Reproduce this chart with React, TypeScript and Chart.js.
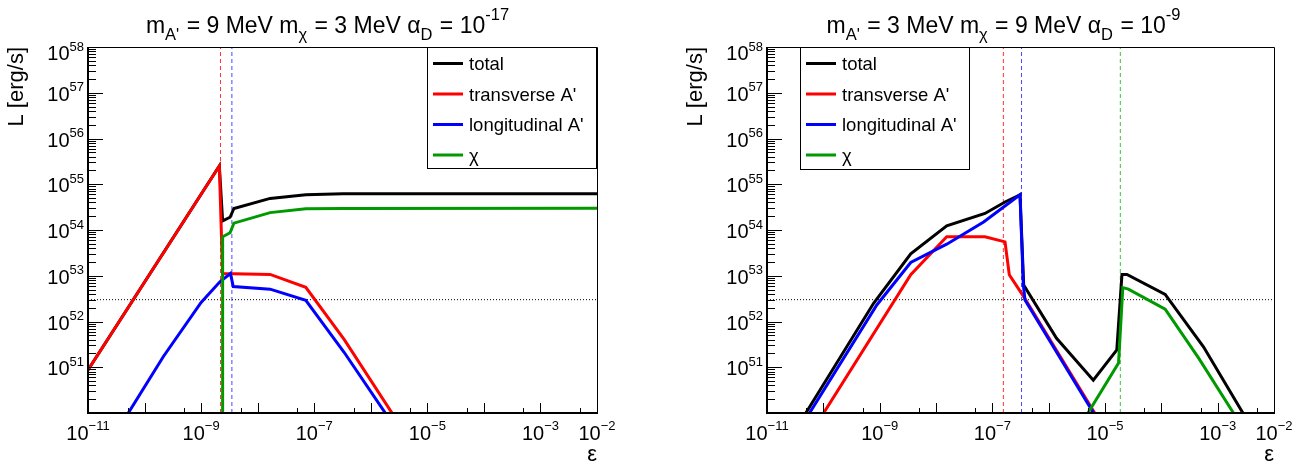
import React, { useEffect, useRef } from 'react';
import { Chart, registerables } from 'chart.js';

Chart.register(...registerables);

const FONT = '"Liberation Sans", Arial, Helvetica, sans-serif';

// ---------- axis ranges and tick labels ----------
const epsMin = 1e-11;
const epsMax = 1e-2;
const lumMin = 1e50;
const lumMax = 1e58;
const xLabelExponents = [-11, -9, -7, -5, -3, -2];
const yLabelExponents = [51, 52, 53, 54, 55, 56, 57, 58];
const seriesNames = ['total', "transverse A'", "longitudinal A'", 'χ'];
const thresholdL = 3e52;

// ---------- left panel: mA' = 9 MeV, mχ = 3 MeV, αD = 1e-17 ----------
const leftTotalEps = [1e-11, 2.1e-9, 2.4e-9, 3.25e-9, 3.8e-9, 1.66e-8, 7.1e-8, 3.2e-7, 1e-2];
const leftTotalL = [8.7e50, 2.5e55, 1.58e54, 1.9e54, 2.95e54, 4.9e54, 5.9e54, 6.2e54, 6.2e54];
const leftTransEps = [1e-11, 2.1e-9, 2.4e-9, 1.66e-8, 7.1e-8, 3.4e-7, 1e-5];
const leftTransL = [8.7e50, 2.5e55, 1.12e53, 1.07e53, 5.6e52, 4.0e51, 6.5e48];
const leftLongEps = [1e-11, 2.14e-10, 1e-9, 2.15e-9, 3.3e-9, 3.7e-9, 1.66e-8, 7.1e-8, 3.4e-7, 1e-5];
const leftLongL = [3.8e48, 1.7e51, 2.6e52, 7.4e52, 1.12e53, 5.8e52, 5.1e52, 2.9e52, 2.1e51, 4.4e48];
const leftChiEps = [2.38e-9, 2.4e-9, 3.25e-9, 3.8e-9, 1.66e-8, 7.1e-8, 3.2e-7, 1e-2];
const leftChiL = [1e40, 7.1e53, 8.7e53, 1.41e54, 2.4e54, 2.9e54, 2.95e54, 3.0e54];
const leftMarkTrans = 2.2e-9;
const leftMarkLong = 3.5e-9;

// ---------- right panel: mA' = 3 MeV, mχ = 9 MeV, αD = 1e-9 ----------
const rightTotalEps = [1e-11, 7.8e-10, 3.56e-9, 1.55e-8, 7.4e-8, 1.68e-7, 3.1e-7, 3.6e-7, 1.38e-6, 6.2e-6, 1.62e-5, 2.0e-5, 2.45e-5, 1.17e-4, 5.6e-4, 1e-2];
const rightTotalL = [4.2e48, 2.5e52, 3.0e53, 1.23e54, 2.3e54, 4.1e54, 5.9e54, 6.3e52, 4.3e51, 5.2e50, 2.4e51, 1.07e53, 1.07e53, 3.9e52, 2.8e51, 7.2e48];
const rightTransEps = [3.2e-11, 3.56e-9, 1.55e-8, 7.4e-8, 1.68e-7, 2.0e-7, 3.6e-7, 1e-4];
const rightTransL = [1.05e49, 1.05e53, 7.1e53, 7.1e53, 5.5e53, 1.05e53, 3.5e52, 4.1e47];
const rightLongEps = [1e-11, 8.9e-10, 3.56e-9, 1.55e-8, 7.0e-8, 3.1e-7, 3.55e-7, 3.8e-7, 1e-4];
const rightLongL = [3.2e48, 2.3e52, 1.95e53, 4.9e53, 1.5e54, 5.9e54, 6.3e52, 2.95e52, 3.6e47];
const rightChiEps = [2.5e-6, 1.74e-5, 2.07e-5, 2.6e-5, 1.17e-4, 4.6e-4, 1e-2];
const rightChiL = [2.5e49, 1.23e51, 5.5e52, 5.1e52, 1.86e52, 1.58e51, 4e48];
const rightMarkTrans = 1.57e-7;
const rightMarkLong = 3.3e-7;
const rightMarkChi = 1.87e-5;

const COLORS = ['#000000', '#ff0000', '#0000ff', '#009900'];
const MARK_COLORS = ['rgba(255,0,0,0.8)', 'rgba(40,40,255,0.85)', 'rgba(0,170,0,0.75)'];

type Part = [string, number]; // 0 main, 1 sub, 2 sup

interface PanelCfg {
  left: number;
  width: number;
  padding: { left: number; right: number; top: number; bottom: number };
  title: Part[];
  titleCx: number;
  yTitleX: number;
  legendBox: { l: number; r: number; t: number; b: number };
  series: { eps: number[]; L: number[] }[];
  marks: { eps: number; color: string }[];
}

const pts = (eps: number[], L: number[]) => eps.map((e, i) => ({ x: e, y: L[i] }));

function drawPow(ctx: CanvasRenderingContext2D, exp: string, x: number, base: number, align: 'center' | 'right', supDy: number) {
  ctx.font = `20px ${FONT}`;
  const w1 = ctx.measureText('10').width;
  ctx.font = `13px ${FONT}`;
  const w2 = ctx.measureText(exp).width;
  const total = w1 + w2;
  const x0 = align === 'center' ? x - total / 2 : x - total;
  ctx.textAlign = 'left';
  ctx.textBaseline = 'alphabetic';
  ctx.font = `20px ${FONT}`;
  ctx.fillText('10', x0, base);
  ctx.font = `13px ${FONT}`;
  ctx.fillText(exp, x0 + w1, base - supDy);
}

function makePlugin(cfg: PanelCfg) {
  return {
    id: 'rootDecor',
    afterDraw(chart: any) {
      const ctx: CanvasRenderingContext2D = chart.ctx;
      const a = chart.chartArea;
      const xs = chart.scales.x;
      const ys = chart.scales.y;
      ctx.save();
      ctx.setLineDash([]);
      ctx.strokeStyle = '#000';
      ctx.fillStyle = '#000';
      // ticks
      ctx.lineWidth = 1;
      ctx.beginPath();
      for (let n = 50; n < 58; n++) {
        for (let k = 1; k <= 9; k++) {
          const py = Math.round(ys.getPixelForValue(k * Math.pow(10, n))) + 0.5;
          if (py < a.top || py > a.bottom - 1) continue;
          const len = k === 1 ? 15 : 8;
          ctx.moveTo(a.left, py);
          ctx.lineTo(a.left + len, py);
        }
      }
      for (let n = -11; n <= -2; n++) {
        for (const k of [1, 5]) {
          const px = Math.round(xs.getPixelForValue(k * Math.pow(10, n))) + 0.5;
          if (px < a.left + 1 || px > a.right - 1) continue;
          const len = k === 1 ? 10 : 5;
          ctx.moveTo(px, a.bottom);
          ctx.lineTo(px, a.bottom - len);
        }
      }
      ctx.stroke();
      // frame
      ctx.lineWidth = 1;
      ctx.beginPath();
      ctx.moveTo(a.left, a.top + 0.5);
      ctx.lineTo(a.right + 0.5, a.top + 0.5);
      ctx.lineTo(a.right + 0.5, a.bottom);
      ctx.stroke();
      ctx.lineWidth = 2;
      ctx.beginPath();
      ctx.moveTo(a.left, a.top);
      ctx.lineTo(a.left, a.bottom);
      ctx.lineTo(a.right + 1, a.bottom);
      ctx.stroke();

      // tick labels
      for (const n of yLabelExponents) {
        const py = ys.getPixelForValue(Math.pow(10, n));
        const shift = n === 58 ? 5 : 0;
        drawPow(ctx, String(n), a.left - 4, py + 8 + shift, 'right', 9.5);
      }
      for (const n of xLabelExponents) {
        const px = xs.getPixelForValue(Math.pow(10, n));
        drawPow(ctx, '\u2212' + String(-n), px, a.bottom + 27, 'center', 10.5);
      }
      // axis titles
      ctx.font = `22px ${FONT}`;
      ctx.textAlign = 'right';
      ctx.textBaseline = 'alphabetic';
      ctx.fillText('ε', a.right, 461);
      ctx.save();
      ctx.translate(cfg.yTitleX, a.top);
      ctx.rotate(-Math.PI / 2);
      ctx.textAlign = 'right';
      ctx.fillText('L [erg/s]', 0, 0);
      ctx.restore();

      // title
      const sizes = [23, 16.5, 16.5];
      const dys = [0, 7, -13];
      let tw = 0;
      for (const [t, s] of cfg.title) {
        ctx.font = `${sizes[s]}px ${FONT}`;
        tw += ctx.measureText(t).width + (s ? 1 : 0);
      }
      let tx = cfg.titleCx - tw / 2;
      ctx.textAlign = 'left';
      for (const [t, s] of cfg.title) {
        ctx.font = `${sizes[s]}px ${FONT}`;
        ctx.fillText(t, tx, 33 + dys[s]);
        tx += ctx.measureText(t).width + (s ? 1 : 0);
      }

      // legend
      const lb = cfg.legendBox;
      ctx.fillStyle = '#fff';
      ctx.fillRect(lb.l, lb.t, lb.r - lb.l, lb.b - lb.t);
      ctx.strokeStyle = '#000';
      ctx.lineWidth = 1;
      ctx.strokeRect(lb.l + 0.5, lb.t + 0.5, lb.r - lb.l, lb.b - lb.t);
      ctx.font = `18.5px ${FONT}`;
      ctx.textAlign = 'left';
      seriesNames.forEach((name, i) => {
        const cy = lb.t + 16.5 + i * 30.5;
        ctx.strokeStyle = COLORS[i];
        ctx.lineWidth = 3;
        ctx.beginPath();
        ctx.moveTo(lb.l + 6, cy);
        ctx.lineTo(lb.l + 36, cy);
        ctx.stroke();
        ctx.fillStyle = '#000';
        ctx.fillText(name, lb.l + 42, cy + 6.5);
      });
      ctx.restore();
    },
  };
}

function Panel({ cfg }: { cfg: PanelCfg }) {
  const ref = useRef<HTMLCanvasElement>(null);
  useEffect(() => {
    const order = [4, 3, 2, 1];
    const datasets: any[] = cfg.series.map((s, i) => ({
      label: seriesNames[i],
      data: pts(s.eps, s.L),
      borderColor: COLORS[i],
      borderWidth: 3,
      pointRadius: 0,
      tension: 0,
      fill: false,
      order: order[i],
    }));
    cfg.marks.forEach((m) => {
      datasets.push({
        data: [{ x: m.eps, y: lumMin }, { x: m.eps, y: lumMax }],
        borderColor: m.color,
        borderWidth: 1,
        borderDash: [4, 3],
        pointRadius: 0,
        fill: false,
        order: 10,
      });
    });
    datasets.push({
      data: [{ x: epsMin, y: thresholdL }, { x: epsMax, y: thresholdL }],
      borderColor: '#000',
      borderWidth: 1,
      borderDash: [1, 2],
      pointRadius: 0,
      fill: false,
      order: 11,
    });
    const chart = new Chart(ref.current as HTMLCanvasElement, {
      type: 'line',
      data: { datasets },
      options: {
        animation: false,
        responsive: false,
        maintainAspectRatio: false,
        devicePixelRatio: 1,
        layout: { padding: cfg.padding },
        plugins: { legend: { display: false }, tooltip: { enabled: false }, title: { display: false } },
        scales: {
          x: { type: 'logarithmic', min: epsMin, max: epsMax, display: false },
          y: { type: 'logarithmic', min: lumMin, max: lumMax, display: false },
        },
      },
      plugins: [makePlugin(cfg)],
    } as any);
    return () => chart.destroy();
  }, []);
  return (
    <canvas
      ref={ref}
      width={cfg.width}
      height={466}
      style={{ position: 'absolute', left: cfg.left, top: 0, width: cfg.width, height: 466 }}
    />
  );
}

const leftCfg: PanelCfg = {
  left: 0,
  width: 657,
  padding: { left: 88, right: 60, top: 47, bottom: 53 },
  title: [['m', 0], ["A'", 1], [' = 9 MeV m', 0], ['χ', 1], [' = 3 MeV α', 0], ['D', 1], [' = 10', 0], ['-17', 2]],
  titleCx: 328,
  yTitleX: 23,
  legendBox: { l: 427, r: 596, t: 47, b: 168 },
  series: [
    { eps: leftTotalEps, L: leftTotalL },
    { eps: leftTransEps, L: leftTransL },
    { eps: leftLongEps, L: leftLongL },
    { eps: leftChiEps, L: leftChiL },
  ],
  marks: [
    { eps: leftMarkTrans, color: MARK_COLORS[0] },
    { eps: leftMarkLong, color: MARK_COLORS[1] },
  ],
};

const rightCfg: PanelCfg = {
  left: 657,
  width: 658,
  padding: { left: 110, right: 41, top: 47, bottom: 53 },
  title: [['m', 0], ["A'", 1], [' = 3 MeV m', 0], ['χ', 1], [' = 9 MeV α', 0], ['D', 1], [' = 10', 0], ['-9', 2]],
  titleCx: 347,
  yTitleX: 45,
  legendBox: { l: 143, r: 312, t: 47, b: 169 },
  series: [
    { eps: rightTotalEps, L: rightTotalL },
    { eps: rightTransEps, L: rightTransL },
    { eps: rightLongEps, L: rightLongL },
    { eps: rightChiEps, L: rightChiL },
  ],
  marks: [
    { eps: rightMarkTrans, color: MARK_COLORS[0] },
    { eps: rightMarkLong, color: MARK_COLORS[1] },
    { eps: rightMarkChi, color: MARK_COLORS[2] },
  ],
};

export default function App() {
  return (
    <div style={{ position: 'absolute', left: 0, top: 0, width: 1315, height: 466, background: '#fff', overflow: 'hidden' }}>
      <Panel cfg={leftCfg} />
      <Panel cfg={rightCfg} />
    </div>
  );
}
